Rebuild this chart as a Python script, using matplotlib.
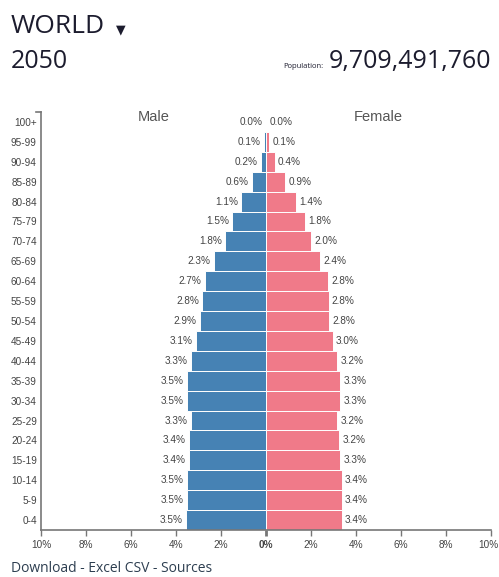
import matplotlib.pyplot as plt
import matplotlib.transforms as mtransforms
import numpy as np

# data: share of world population by age group, 2050
ages = ['100+', '95-99', '90-94', '85-89', '80-84', '75-79', '70-74', '65-69',
        '60-64', '55-59', '50-54', '45-49', '40-44', '35-39', '30-34', '25-29',
        '20-24', '15-19', '10-14', '5-9', '0-4']
male = [0.005, 0.10, 0.24, 0.61, 1.10, 1.50, 1.82, 2.31, 2.71, 2.83, 2.92,
        3.11, 3.32, 3.50, 3.50, 3.34, 3.41, 3.44, 3.53, 3.53, 3.54]
female = [0.02, 0.13, 0.38, 0.86, 1.35, 1.75, 2.00, 2.40, 2.76, 2.78, 2.81,
          2.96, 3.16, 3.28, 3.28, 3.17, 3.24, 3.28, 3.36, 3.36, 3.36]
xticks = [-10, -8, -6, -4, -2, 0, 2, 4, 6, 8, 10]
region = 'WORLD'
year = '2050'
population = '9,709,491,760'

W, H = 499, 577
fig = plt.figure(figsize=(W / 100, H / 100), dpi=100)
ax = fig.add_axes([41 / W, 1 - 530 / H, 450 / W, 418 / H])

blue = '#4682b4'
pink = '#f07a89'
txt = '#444444'
lab_font = 'Liberation Sans'
fs = 7.2

y = np.arange(len(ages))
ax.barh(y, [-v for v in male], height=1.0, color=blue, edgecolor='white', linewidth=0.7)
ax.barh(y, female, height=1.0, color=pink, edgecolor='white', linewidth=0.7)

for i in range(len(ages)):
    ax.text(-male[i] - 0.15, y[i], f'{male[i]:.1f}%', ha='right', va='center',
            fontsize=fs, color=txt, family=lab_font)
    ax.text(female[i] + 0.15, y[i], f'{female[i]:.1f}%', ha='left', va='center',
            fontsize=fs, color=txt, family=lab_font)

ax.set_xlim(-10, 10)
ax.set_ylim(len(ages) - 0.5, -0.5)
ax.set_yticks(y)
ax.set_yticklabels(ages, fontsize=fs, color=txt, family=lab_font)
ax.tick_params(axis='y', length=0, pad=3)
ax.set_xticks(xticks)
ax.set_xticklabels([f'{abs(t)}%' for t in xticks], fontsize=fs, color=txt, family=lab_font)
ax.tick_params(axis='x', length=4, width=1, color='#777777', pad=3)
for s in ['top', 'right']:
    ax.spines[s].set_visible(False)
for s in ['left', 'bottom']:
    ax.spines[s].set_color('#777777')
    ax.spines[s].set_linewidth(1.2)
ax.plot([-0.012, 0], [1, 1], transform=ax.transAxes, color='#777777', lw=1.2, clip_on=False)

zero = ax.xaxis.get_major_ticks()[5]
zero.tick1line.set_color('black')
zero.tick1line.set_markeredgewidth(2)
zero.label1.set_fontweight('bold')

# keep the right-most tick label inside the figure
last = ax.xaxis.get_majorticklabels()[-1]
last.set_transform(last.get_transform() + mtransforms.ScaledTranslation(-3 / 100, 0, fig.dpi_scale_trans))

ax.text(-5, -0.25, 'Male', ha='center', va='center', fontsize=10.5, color='#555555', family=lab_font)
ax.text(5, -0.25, 'Female', ha='center', va='center', fontsize=10.5, color='#555555', family=lab_font)

head = '#1c1c2e'
fig.text(11 / W, 1 - 33 / H, region, fontsize=19, color=head, family='Open Sans', va='baseline')
fig.text(116 / W, 1 - 33 / H, '▼', fontsize=9, color=head, family='DejaVu Sans', va='baseline')
fig.text(11 / W, 1 - 68 / H, year, fontsize=18, color=head, family='Open Sans', va='baseline')
fig.text(491 / W, 1 - 68 / H, population, fontsize=18, color=head, family='Open Sans',
         va='baseline', ha='right')
fig.text(323 / W, 1 - 68 / H, 'Population:', fontsize=5.5, color=head, family='Open Sans',
         va='baseline', ha='right')

fig.text(11 / W, 0.001, 'Download - Excel CSV - Sources', fontsize=10, color='#2d3e50',
         family='Open Sans', va='bottom')

fig.savefig('out.png', dpi=100)
